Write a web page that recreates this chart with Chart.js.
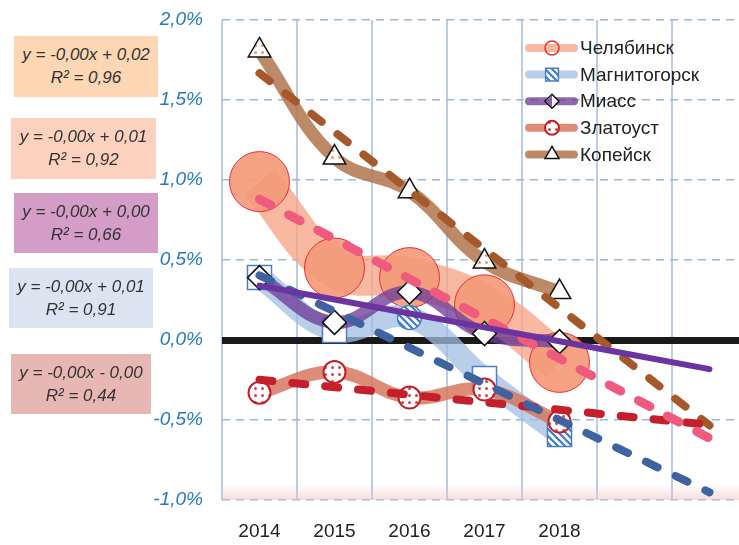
<!DOCTYPE html>
<html>
<head>
<meta charset="utf-8">
<script src="https://cdn.jsdelivr.net/npm/chart.js@4.4.1/dist/chart.umd.min.js"></script>
<style>
body { margin: 0; overflow: hidden; background: #fff; }
#chart { position: absolute; left: 0; top: 0; }
.eq { position: absolute; font: italic 17px "Liberation Sans", sans-serif; color: #333;
      text-align: center; line-height: 23px; padding-top: 7px; box-sizing: border-box; z-index: 2; }
</style>
</head>
<body>
<canvas id="chart" width="747" height="545"></canvas>
<script>
// years on the axis, the last two slots are the forecast period of the trend lines
const years = ["2014", "2015", "2016", "2017", "2018", "", ""];

// values in %
const chelyabinsk = [0.99, 0.45, 0.39, 0.22, -0.14];
const magnitogorsk = [0.39, 0.06, 0.14, -0.24, -0.59];
const miass = [0.39, 0.11, 0.30, 0.04, -0.01];
const zlatoust = [-0.33, -0.20, -0.36, -0.31, -0.51];
const kopeysk = [1.81, 1.14, 0.93, 0.49, 0.30];

const cityNames = ["Челябинск", "Магнитогорск", "Миасс", "Златоуст", "Копейск"];

// trend line labels (as printed on the chart)
const trendText = [
    ["y = -0,00x + 0,02", "R² = 0,96"],
    ["y = -0,00x + 0,01", "R² = 0,92"],
    ["y = -0,00x + 0,00", "R² = 0,66"],
    ["y = -0,00x + 0,01", "R² = 0,91"],
    ["y = -0,00x - 0,00", "R² = 0,44"]
];

// boxes for the labels
const eqBoxes = [
    { left: 14, top: 36, w: 144, h: 61, bg: "#fdd6b4" },
    { left: 11, top: 118, w: 145, h: 61, bg: "#fcd1bd" },
    { left: 14, top: 193, w: 144, h: 60, bg: "#d49dc8" },
    { left: 9, top: 268, w: 144, h: 60, bg: "#dbe4f1" },
    { left: 11, top: 354, w: 140, h: 60, bg: "#e7b8b3" }
];

eqBoxes.forEach((b, i) => {
    const d = document.createElement("div");
    d.className = "eq";
    d.style.left = b.left + "px";
    d.style.top = b.top + "px";
    d.style.width = b.w + "px";
    d.style.height = b.h + "px";
    d.style.background = b.bg;
    d.innerHTML = trendText[i].join("<br>");
    document.body.appendChild(d);
});

function makePattern(kind) {
    const c = document.createElement("canvas");
    c.width = 7; c.height = 7;
    const g = c.getContext("2d");
    g.fillStyle = "#fff";
    g.fillRect(0, 0, 7, 7);
    if (kind === "hatch") {
        g.strokeStyle = "#3a7cc6";
        g.lineWidth = 2.2;
        g.beginPath();
        g.moveTo(-2, -2); g.lineTo(9, 9);
        g.moveTo(-2, 5); g.lineTo(2, 9);
        g.moveTo(5, -2); g.lineTo(9, 2);
        g.stroke();
    } else {
        g.fillStyle = kind === "red" ? "#d6404c" : "#f09a6a";
        g.beginPath();
        g.arc(3.5, 3.5, 1.5, 0, Math.PI * 2);
        g.fill();
    }
    return g.createPattern(c, "repeat");
}

const hatch = makePattern("hatch");
const redDots = makePattern("red");
const orangeDots = makePattern("orange");

function trend(vals, n) {
    let sx = 0, sy = 0, sxx = 0, sxy = 0;
    const m = vals.length;
    vals.forEach((v, i) => { sx += i; sy += v; sxx += i * i; sxy += i * v; });
    const b = (m * sxy - sx * sy) / (m * sxx - sx * sx);
    const a = (sy - b * sx) / m;
    return years.slice(0, n).map((_, i) => a + b * i);
}

const series = [
    { data: chelyabinsk, band: "rgba(247,165,135,0.78)", bandW: 40, order: 10,
      style: "circle", radius: 30, fill: "rgba(244,155,122,0.92)", border: "#ee2a32", bw: 1,
      trendColor: "#ef5a7e", trendW: 9, dash: [13, 20] },
    { data: magnitogorsk, band: "rgba(160,190,226,0.75)", bandW: 22, order: 9,
      style: ["rect", "rect", "circle", "rect", "rect"], radius: [17, 17, 12, 17, 17],
      fill: ["#fff", "#fff", hatch, "#fff", hatch], border: "#4a7fc2", bw: 1.5,
      trendColor: "#3f62a0", trendW: 8, dash: [13, 20] },
    { data: miass, band: "rgba(112,62,152,0.78)", bandW: 13, order: 8,
      style: "rectRot", radius: 12, fill: "#fff", border: "#111", bw: 1.5,
      trendColor: "#6b34a0", trendW: 6, dash: [] },
    { data: zlatoust, band: "rgba(214,120,95,0.85)", bandW: 13, order: 7,
      style: "circle", radius: 11, fill: redDots, border: "#c01f2a", bw: 2,
      trendColor: "#c3202c", trendW: 8, dash: [13, 20] },
    { data: kopeysk, band: "rgba(178,118,78,0.85)", bandW: 13, order: 6,
      style: "triangle", radius: 13, fill: [orangeDots, orangeDots, "#fff", orangeDots, "#fff"],
      border: "#111", bw: 1.5,
      trendColor: "#a5582a", trendW: 8, dash: [13, 20] }
];

const datasets = [];
series.forEach((s, i) => {
    datasets.push({
        label: cityNames[i],
        data: s.data,
        borderColor: s.band,
        borderWidth: s.bandW,
        tension: 0.4,
        pointStyle: s.style,
        pointRadius: s.radius,
        pointBackgroundColor: s.fill,
        pointBorderColor: s.border,
        pointBorderWidth: s.bw,
        order: s.order
    });
});
series.forEach((s, i) => {
    datasets.push({
        label: cityNames[i] + " trend",
        data: trend(s.data, years.length),
        borderColor: s.trendColor,
        borderWidth: s.trendW,
        borderDash: s.dash,
        borderCapStyle: "round",
        pointRadius: 0,
        tension: 0,
        order: i === 2 ? 0 : 1
    });
});

const bottomBand = {
    id: "bottomBand",
    beforeDatasetsDraw(c) {
        const a = c.chartArea;
        const y0 = c.scales.y.getPixelForValue(-1.0);
        const g = c.ctx.createLinearGradient(0, y0 - 16, 0, y0);
        g.addColorStop(0, "rgba(240,190,190,0)");
        g.addColorStop(1, "rgba(240,190,190,0.55)");
        c.ctx.save();
        c.ctx.fillStyle = g;
        c.ctx.fillRect(a.left, y0 - 16, a.right - a.left, 16);
        c.ctx.restore();
    }
};

const cityLegend = {
    id: "cityLegend",
    afterDraw(c) {
        const ctx = c.ctx;
        ctx.save();
        series.forEach((s, i) => {
            const y = 48 + i * 26.6;
            ctx.strokeStyle = s.band;
            ctx.lineWidth = 8;
            ctx.lineCap = "round";
            ctx.beginPath();
            ctx.moveTo(529, y);
            ctx.lineTo(574, y);
            ctx.stroke();
            const st = Array.isArray(s.style) ? s.style[0] : s.style;
            let f = Array.isArray(s.fill) ? s.fill[s.fill.length - 1] : s.fill;
            if (i === 0) f = "rgba(0,0,0,0)";
            ctx.fillStyle = f;
            ctx.strokeStyle = s.border;
            ctx.lineWidth = i === 3 ? 2 : 1.5;
            Chart.helpers.drawPoint(ctx, {
                pointStyle: st,
                radius: i === 1 ? 9 : (i === 4 ? 8 : 7),
                borderWidth: ctx.lineWidth,
                rotation: 0
            }, 552, y);
            if (i === 2) {
                ctx.fillStyle = "#8a5db4";
                ctx.beginPath();
                ctx.moveTo(552, y - 6);
                ctx.lineTo(546, y);
                ctx.lineTo(552, y + 6);
                ctx.closePath();
                ctx.fill();
            }
            ctx.fillStyle = "#222";
            ctx.font = '19px "Liberation Sans", sans-serif';
            ctx.textBaseline = "middle";
            ctx.fillText(cityNames[i], 580, y + 1);
        });
        ctx.restore();
    }
};

Chart.defaults.font.family = '"Liberation Sans", sans-serif';

new Chart(document.getElementById("chart"), {
    type: "line",
    data: { labels: years, datasets: datasets },
    plugins: [bottomBand, cityLegend],
    options: {
        responsive: false,
        animation: false,
        devicePixelRatio: 1,
        layout: { autoPadding: false, padding: { top: 20, right: 0, bottom: 0, left: 0 } },
        plugins: {
            legend: { display: false },
            tooltip: { enabled: false }
        },
        scales: {
            x: {
                offset: true,
                grid: { offset: true, color: "#b9cde7", lineWidth: 2, drawTicks: false },
                border: { display: false },
                ticks: { color: "#222", font: { size: 19 }, padding: 20, maxRotation: 0, autoSkip: false },
                afterFit(s) { s.height = 45; s.paddingLeft = 0; s.paddingRight = 0; }
            },
            y: {
                min: -1,
                max: 2,
                grid: {
                    drawTicks: false,
                    color: ctx => ctx.tick && ctx.tick.value === 0 ? "#1a1a1a" : "#9ab6de",
                    lineWidth: ctx => ctx.tick && ctx.tick.value === 0 ? 7 : 1.5
                },
                border: {
                    display: false,
                    dash: ctx => ctx.tick && ctx.tick.value === 0 ? [] : [8, 6]
                },
                ticks: {
                    stepSize: 0.5,
                    color: "#2878c4",
                    font: { size: 19, style: "italic" },
                    padding: 19,
                    callback: v => v.toFixed(1).replace(".", ",") + "%"
                },
                afterFit(s) { s.width = 222; s.paddingTop = 0; s.paddingBottom = 0; }
            }
        }
    }
});
</script>
</body>
</html>
